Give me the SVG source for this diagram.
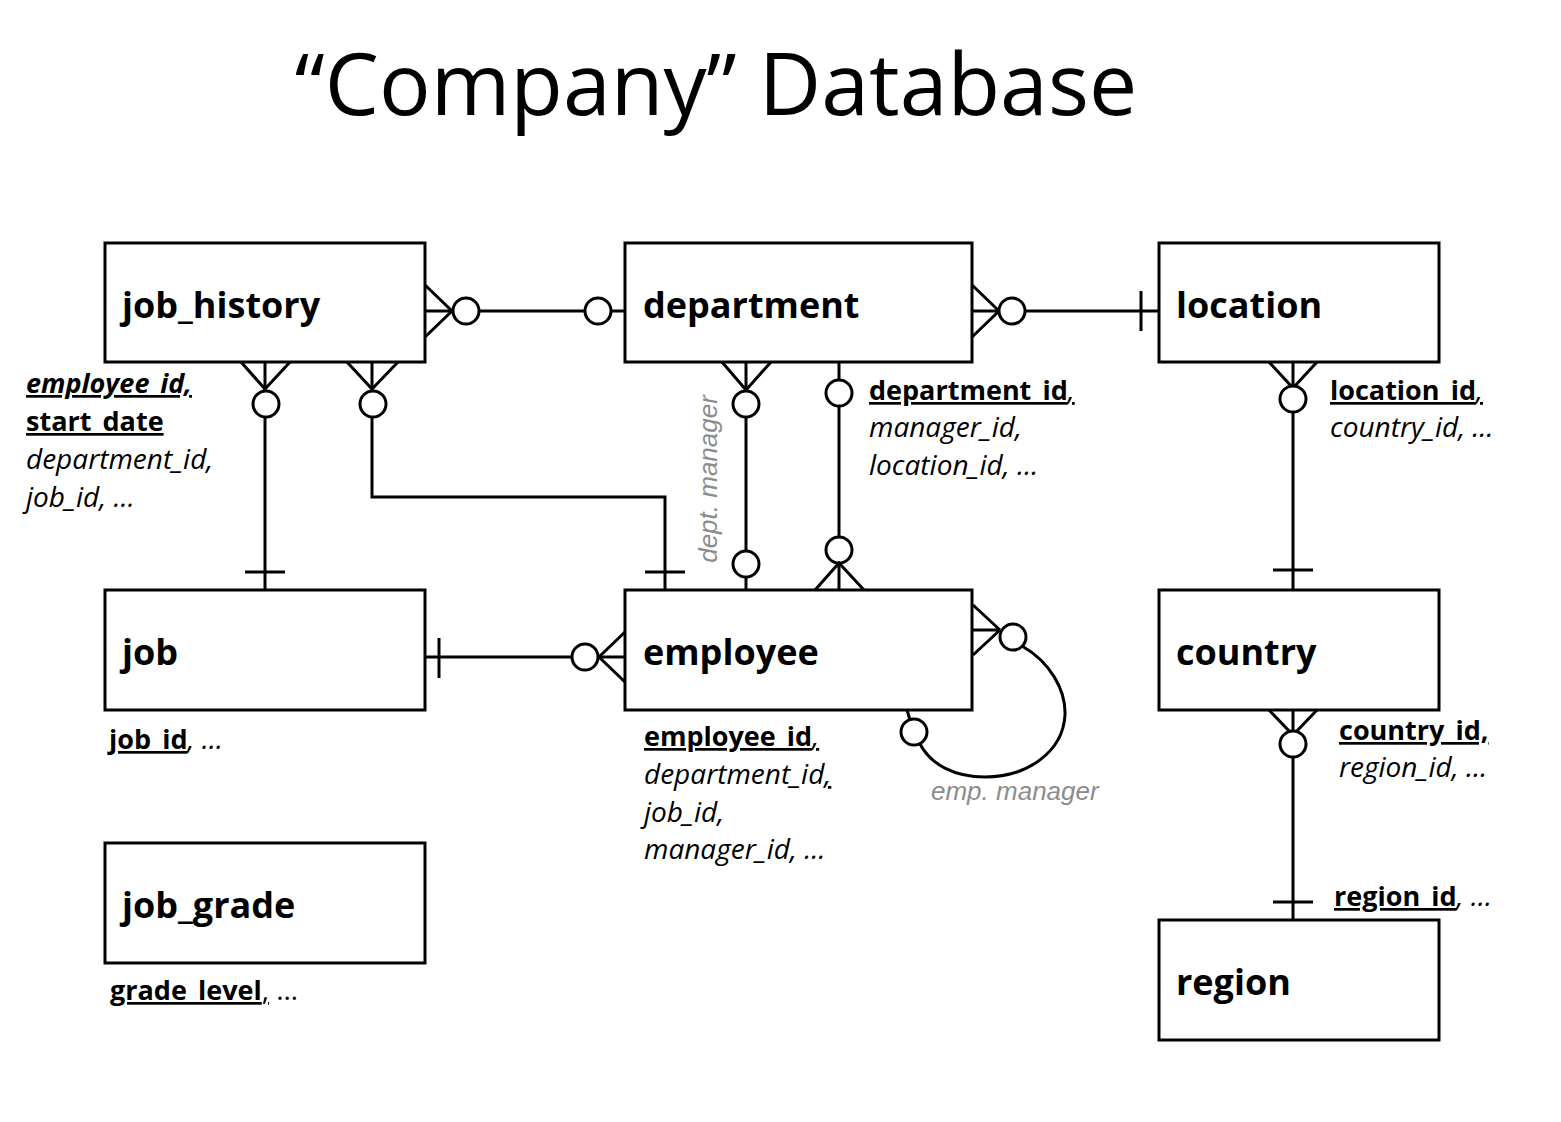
<svg xmlns="http://www.w3.org/2000/svg" width="1561" height="1122" viewBox="0 0 1561 1122">
<style>
  .box { fill: #fff; stroke: #000; stroke-width: 3; }
  .lbl { font-family: "Open Sans", "Liberation Sans", sans-serif; font-weight: bold; font-size: 36px; fill: #000; }
  .att { font-family: "Open Sans", "Liberation Sans", sans-serif; font-size: 28px; fill: #000; }
  .it { font-style: italic; }
  .b { font-weight: bold; font-size: 27px; }
  .u { text-decoration: underline; }
  .ln { fill: none; stroke: #000; stroke-width: 3; }
  .ring { fill: #fff; stroke: #000; stroke-width: 3; }
  .gray { font-family: "Liberation Sans", Arial, sans-serif; font-style: italic; font-size: 26px; fill: #8c8c8c; }
  .title { font-family: "Open Sans", "Liberation Sans", sans-serif; font-size: 86px; fill: #000; }
</style>
<rect width="1561" height="1122" fill="#fff"/>
<text class="title" x="716" y="115" text-anchor="middle">“Company” Database</text>

<g id="connectors">
  <!-- job_history - department -->
  <path class="ln" d="M425,311 H625"/>
  <path class="ln" d="M425,285 L452,311 L425,337"/>
  <circle class="ring" cx="466" cy="311" r="13"/>
  <circle class="ring" cx="598" cy="311" r="13"/>
  <!-- department - location -->
  <path class="ln" d="M972,311 H1159"/>
  <path class="ln" d="M972,285 L999,311 L972,337"/>
  <circle class="ring" cx="1012" cy="311" r="13"/>
  <path class="ln" d="M1141,291 V331"/>
  <!-- job_history - job -->
  <path class="ln" d="M265,362 V590"/>
  <path class="ln" d="M241,362 L265,389 L290,362"/>
  <circle class="ring" cx="266" cy="404" r="13"/>
  <path class="ln" d="M245,572 H285"/>
  <!-- job_history - employee -->
  <path class="ln" d="M372,362 V497 H665 V590"/>
  <path class="ln" d="M347,362 L372,389 L398,362"/>
  <circle class="ring" cx="373" cy="404" r="13"/>
  <path class="ln" d="M645,572 H685"/>
  <!-- department - employee (dept manager) -->
  <path class="ln" d="M746,362 V590"/>
  <path class="ln" d="M722,362 L746,390 L771,362"/>
  <circle class="ring" cx="746" cy="404" r="13"/>
  <circle class="ring" cx="746" cy="564" r="13"/>
  <!-- department - employee (works in) -->
  <path class="ln" d="M839,362 V590"/>
  <circle class="ring" cx="839" cy="393" r="13"/>
  <circle class="ring" cx="839" cy="550" r="13"/>
  <path class="ln" d="M815,590 L839,563 L864,590"/>
  <!-- job - employee -->
  <path class="ln" d="M425,657 H625"/>
  <path class="ln" d="M439,638 V678"/>
  <path class="ln" d="M625,632 L599,657 L625,682"/>
  <circle class="ring" cx="585" cy="657" r="13"/>
  <!-- employee self -->
  <path class="ln" d="M973,605 L1000,630 M973,630 L1000,630 M973,655 L1000,630"/>
  <path class="ln" d="M1022,646 C1050,662 1066,690 1065,715 C1063,752 1027,777 985,777 C955,777 931,765 920,744"/>
  <circle class="ring" cx="1013" cy="637" r="13"/>
  <path class="ln" d="M907,710 L910,720"/>
  <circle class="ring" cx="914" cy="732" r="13"/>
  <!-- location - country -->
  <path class="ln" d="M1293,362 V590"/>
  <path class="ln" d="M1269,362 L1293,388 L1317,362"/>
  <circle class="ring" cx="1293" cy="399" r="13"/>
  <path class="ln" d="M1273,570 H1313"/>
  <!-- country - region -->
  <path class="ln" d="M1293,710 V920"/>
  <path class="ln" d="M1269,710 L1293,735 L1317,710"/>
  <circle class="ring" cx="1293" cy="744" r="13"/>
  <path class="ln" d="M1273,902 H1313"/>
  <!-- labels -->
  <text class="gray" transform="translate(717,479) rotate(-90)" text-anchor="middle">dept. manager</text>
  <text class="gray" x="931" y="800">emp. manager</text>
</g>

<g id="job_history">
  <rect class="box" x="105" y="243" width="320" height="119"/>
  <text class="lbl" x="122" y="318">job_history</text>
  <text class="att" x="26" y="393"><tspan class="b it u">employee_id,</tspan></text>
  <text class="att" x="26" y="431"><tspan class="b u">start_date</tspan></text>
  <text class="att it" x="26" y="469">department_id,</text>
  <text class="att it" x="26" y="507">job_id, …</text>
</g>

<g id="department">
  <rect class="box" x="625" y="243" width="347" height="119"/>
  <text class="lbl" x="643" y="318">department</text>
  <text class="att" x="869" y="400"><tspan class="b u">department_id</tspan><tspan class="it u">,</tspan></text>
  <text class="att it" x="869" y="437">manager_id,</text>
  <text class="att it" x="869" y="475">location_id, …</text>
</g>

<g id="location">
  <rect class="box" x="1159" y="243" width="280" height="119"/>
  <text class="lbl" x="1176" y="318">location</text>
  <text class="att" x="1330" y="400"><tspan class="b u">location_id</tspan><tspan class="it u">,</tspan></text>
  <text class="att it" x="1330" y="437">country_id, …</text>
</g>

<g id="job">
  <rect class="box" x="105" y="590" width="320" height="120"/>
  <text class="lbl" x="122" y="665">job</text>
  <text class="att" x="109" y="749"><tspan class="b u">job_id</tspan><tspan class="it">, …</tspan></text>
</g>

<g id="employee">
  <rect class="box" x="625" y="590" width="347" height="120"/>
  <text class="lbl" x="643" y="665">employee</text>
  <text class="att" x="644" y="746"><tspan class="b u">employee_id</tspan><tspan class="it u">,</tspan></text>
  <text class="att it" x="644" y="784">department_id<tspan class="u">,</tspan></text>
  <text class="att it" x="644" y="822">job_id,</text>
  <text class="att it" x="644" y="859">manager_id, …</text>
</g>

<g id="country">
  <rect class="box" x="1159" y="590" width="280" height="120"/>
  <text class="lbl" x="1176" y="665">country</text>
  <text class="att" x="1339" y="740"><tspan class="b u">country_id,</tspan></text>
  <text class="att it" x="1339" y="777">region_id, …</text>
</g>

<g id="job_grade">
  <rect class="box" x="105" y="843" width="320" height="120"/>
  <text class="lbl" x="122" y="918">job_grade</text>
  <text class="att" x="110" y="1000"><tspan class="b u">grade_level</tspan><tspan class="u">,</tspan><tspan> …</tspan></text>
</g>

<g id="region">
  <rect class="box" x="1159" y="920" width="280" height="120"/>
  <text class="lbl" x="1176" y="995">region</text>
  <text class="att" x="1334" y="906"><tspan class="b u">region_id</tspan><tspan class="it">, …</tspan></text>
</g>
</svg>
